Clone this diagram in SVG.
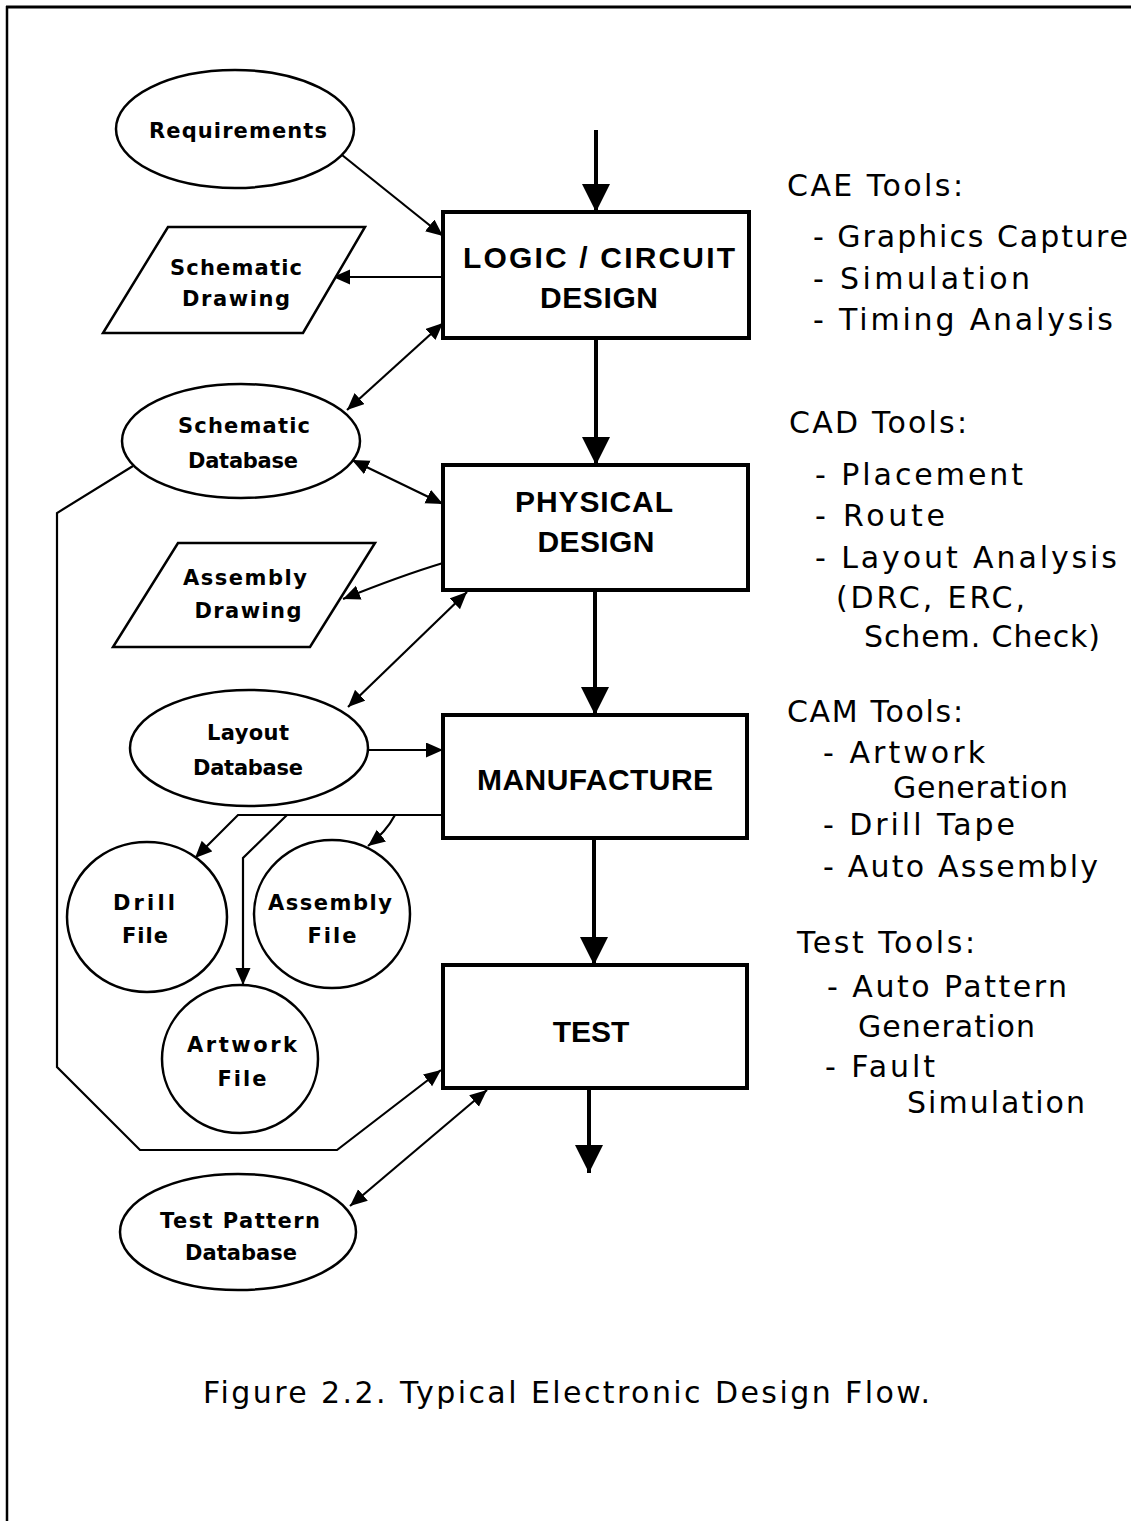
<svg xmlns="http://www.w3.org/2000/svg" width="1131" height="1521" viewBox="0 0 1131 1521">
<style>
  .shape { fill: #fff; stroke: #000; stroke-width: 2.5; }
  .box { fill: #fff; stroke: #000; stroke-width: 4; }
  .lbl { font-family: "DejaVu Sans", "Liberation Sans", sans-serif; font-weight: bold; font-size: 21px; fill: #000; text-anchor: middle; }
  .blbl { font-family: "Liberation Sans", Arial, sans-serif; font-weight: bold; font-size: 30px; fill: #000; text-anchor: middle; }
  .note { font-family: "DejaVu Sans", "Liberation Sans", sans-serif; font-size: 30px; fill: #000; }
  .conn { fill: none; stroke: #000; stroke-width: 2.2; }
  .flow { fill: none; stroke: #000; stroke-width: 4; }
</style>
<defs>
  <marker id="big" markerUnits="userSpaceOnUse" markerWidth="30" markerHeight="30" refX="28" refY="14" orient="auto">
    <path d="M0,0 L28,14 L0,28 z" fill="#000"/>
  </marker>
  <marker id="sm" markerUnits="userSpaceOnUse" markerWidth="20" markerHeight="16" refX="17" refY="7.5" orient="auto-start-reverse">
    <path d="M0,0 L17,7.5 L0,15 z" fill="#000"/>
  </marker>
</defs>
<rect x="0" y="0" width="1131" height="1521" fill="#fff"/>
<g id="border">
  <line x1="6" y1="7" x2="1131" y2="7" stroke="#000" stroke-width="3"/>
  <line x1="7" y1="6" x2="7" y2="1521" stroke="#000" stroke-width="2.5"/>
</g>
<g id="connectors">
  <line class="flow" x1="596" y1="130" x2="596" y2="212" marker-end="url(#big)"/>
  <line class="flow" x1="596" y1="338" x2="596" y2="465" marker-end="url(#big)"/>
  <line class="flow" x1="595" y1="590" x2="595" y2="715" marker-end="url(#big)"/>
  <line class="flow" x1="594" y1="838" x2="594" y2="965" marker-end="url(#big)"/>
  <line class="flow" x1="589" y1="1088" x2="589" y2="1173" marker-end="url(#big)"/>
  <line class="conn" x1="342" y1="155" x2="443" y2="236" marker-end="url(#sm)"/>
  <line class="conn" x1="443" y1="277" x2="333" y2="277" marker-end="url(#sm)"/>
  <line class="conn" x1="347" y1="410" x2="443" y2="323" marker-start="url(#sm)" marker-end="url(#sm)"/>
  <line class="conn" x1="352" y1="460" x2="443" y2="504" marker-start="url(#sm)" marker-end="url(#sm)"/>
  <path class="conn" d="M443,563 Q400,576 343,599" marker-end="url(#sm)"/>
  <line class="conn" x1="348" y1="707" x2="467" y2="592" marker-start="url(#sm)" marker-end="url(#sm)"/>
  <line class="conn" x1="368" y1="750" x2="443" y2="750" marker-end="url(#sm)"/>
  <path class="conn" d="M443,815 L238,815 L195,858" marker-end="url(#sm)"/>
  <path class="conn" d="M287,815 L243,858 L243,985" marker-end="url(#sm)"/>
  <path class="conn" d="M395,815 Q386,832 368,846" marker-end="url(#sm)"/>
  <path class="conn" d="M133,466 L57,513 L57,1067 L140,1150 L337,1150 L441,1070" marker-end="url(#sm)"/>
  <line class="conn" x1="350" y1="1206" x2="487" y2="1090" marker-start="url(#sm)" marker-end="url(#sm)"/>
</g>
<g id="logic">
  <rect class="box" x="443" y="212" width="306" height="126"/>
  <text class="blbl" x="599" y="268" textLength="272">LOGIC / CIRCUIT</text>
  <text class="blbl" x="599" y="308" textLength="118">DESIGN</text>
</g>
<g id="physical">
  <rect class="box" x="443" y="465" width="305" height="125"/>
  <text class="blbl" x="594" y="512" textLength="158">PHYSICAL</text>
  <text class="blbl" x="596" y="552" textLength="117">DESIGN</text>
</g>
<g id="manufacture">
  <rect class="box" x="443" y="715" width="304" height="123"/>
  <text class="blbl" x="595" y="790" textLength="236">MANUFACTURE</text>
</g>
<g id="test">
  <rect class="box" x="443" y="965" width="304" height="123"/>
  <text class="blbl" x="591" y="1042">TEST</text>
</g>
<g id="requirements">
  <ellipse class="shape" cx="235" cy="129" rx="119" ry="59"/>
  <text class="lbl" x="238" y="138" textLength="178">Requirements</text>
</g>
<g id="schematic-drawing">
  <polygon class="shape" points="168,227 365,227 303,333 103,333"/>
  <text class="lbl" x="236" y="275" textLength="132">Schematic</text>
  <text class="lbl" x="236" y="306" textLength="108">Drawing</text>
</g>
<g id="schematic-database">
  <ellipse class="shape" cx="241" cy="441" rx="119" ry="57"/>
  <text class="lbl" x="244" y="433" textLength="132">Schematic</text>
  <text class="lbl" x="243" y="468" textLength="110">Database</text>
</g>
<g id="assembly-drawing">
  <polygon class="shape" points="178,543 375,543 310,647 113,647"/>
  <text class="lbl" x="245" y="585" textLength="124">Assembly</text>
  <text class="lbl" x="248" y="618" textLength="107">Drawing</text>
</g>
<g id="layout-database">
  <ellipse class="shape" cx="249" cy="748" rx="119" ry="58"/>
  <text class="lbl" x="248" y="740" textLength="82">Layout</text>
  <text class="lbl" x="248" y="775" textLength="110">Database</text>
</g>
<g id="drill-file">
  <ellipse class="shape" cx="147" cy="917" rx="80" ry="75"/>
  <text class="lbl" x="144" y="910" textLength="62">Drill</text>
  <text class="lbl" x="145" y="943" textLength="46">File</text>
</g>
<g id="assembly-file">
  <ellipse class="shape" cx="332" cy="914" rx="78" ry="74"/>
  <text class="lbl" x="330" y="910" textLength="124">Assembly</text>
  <text class="lbl" x="332" y="943" textLength="49">File</text>
</g>
<g id="artwork-file">
  <ellipse class="shape" cx="240" cy="1059" rx="78" ry="74"/>
  <text class="lbl" x="242" y="1052" textLength="110">Artwork</text>
  <text class="lbl" x="242" y="1086" textLength="49">File</text>
</g>
<g id="test-pattern-database">
  <ellipse class="shape" cx="238" cy="1232" rx="118" ry="58"/>
  <text class="lbl" x="240" y="1228" textLength="160">Test Pattern</text>
  <text class="lbl" x="241" y="1260" textLength="112">Database</text>
</g>
<g id="tool-notes">
  <text class="note" x="787" y="196" textLength="176">CAE Tools:</text>
  <text class="note" x="813" y="247" textLength="315">- Graphics Capture</text>
  <text class="note" x="813" y="289" textLength="217">- Simulation</text>
  <text class="note" x="813" y="330" textLength="300">- Timing Analysis</text>
  <text class="note" x="789" y="433" textLength="178">CAD Tools:</text>
  <text class="note" x="815" y="485" textLength="208">- Placement</text>
  <text class="note" x="815" y="526" textLength="130">- Route</text>
  <text class="note" x="815" y="568" textLength="302">- Layout Analysis</text>
  <text class="note" x="836" y="608" textLength="189">(DRC, ERC,</text>
  <text class="note" x="864" y="647" textLength="236">Schem. Check)</text>
  <text class="note" x="787" y="722" textLength="176">CAM Tools:</text>
  <text class="note" x="823" y="763" textLength="162">- Artwork</text>
  <text class="note" x="893" y="798" textLength="175">Generation</text>
  <text class="note" x="823" y="835" textLength="192">- Drill Tape</text>
  <text class="note" x="823" y="877" textLength="275">- Auto Assembly</text>
  <text class="note" x="797" y="953" textLength="178">Test Tools:</text>
  <text class="note" x="827" y="997" textLength="240">- Auto Pattern</text>
  <text class="note" x="858" y="1037" textLength="177">Generation</text>
  <text class="note" x="825" y="1077" textLength="110">- Fault</text>
  <text class="note" x="907" y="1113" textLength="178">Simulation</text>
</g>
<g id="caption">
  <text class="note" x="203" y="1403" textLength="727">Figure 2.2.  Typical Electronic Design Flow.</text>
</g>
</svg>
